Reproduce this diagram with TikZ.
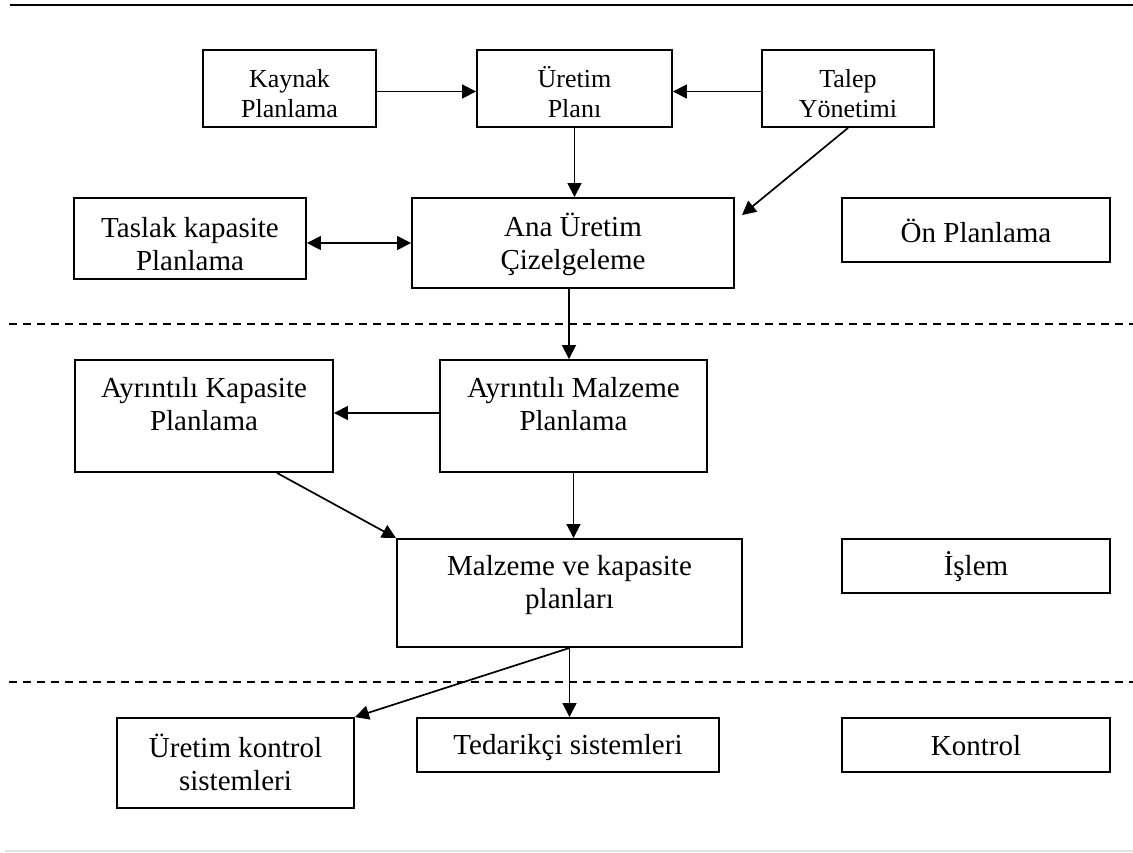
\documentclass[tikz,border=0pt]{standalone}
\usepackage{fontspec}
\setmainfont{Liberation Serif}
\usetikzlibrary{arrows.meta,calc}
\newcommand{\twol}[2]{\begin{tabular}[t]{@{}c@{}}#1\\#2\end{tabular}}
\tikzset{
  boxst/.style={draw, line width=1.9pt, inner sep=0pt, font=\fontsize{29}{33}\selectfont},
  smallbox/.style={boxst, font=\fontsize{26}{30}\selectfont},
  arr/.style={line width=1.7pt, -{Triangle[length=14pt,width=14pt]}},
  dbl/.style={line width=1.7pt, {Triangle[length=14pt,width=14pt]}-{Triangle[length=14pt,width=14pt]}},
  sepline/.style={line width=1.8pt, dash pattern=on 7.5pt off 6.5pt},
}
\begin{document}
\begin{tikzpicture}[x=1pt,y=-1pt]
\useasboundingbox (0,0) rectangle (1133,852);
% frame lines
\draw[line width=2pt] (10,5) -- (1133,5);
\draw[sepline] (9,324) -- (1133,324);
\draw[sepline] (9,682) -- (1133,682);
\draw[line width=1.5pt, gray!22] (5,851) -- (1133,851);
% boxes
\node[smallbox, minimum width=173pt, minimum height=77pt, text height=0pt, text depth=2pt] (kay) at (289.5,88.5) {\twol{Kaynak}{Planlama}};
\node[smallbox, minimum width=195pt, minimum height=77pt, text height=0pt, text depth=2pt] (ure) at (574.5,88.5) {\twol{Üretim}{Planı}};
\node[smallbox, minimum width=172pt, minimum height=77pt, text height=0pt, text depth=2pt] (tal) at (848,88.5) {\twol{Talep}{Yönetimi}};
\node[boxst, minimum width=232pt, minimum height=81pt, text height=0pt, text depth=3pt] (tas) at (190,238.5) {\twol{Taslak kapasite}{Planlama}};
\node[boxst, minimum width=322pt, minimum height=90pt, text height=0pt, text depth=14pt] (ana) at (573,243) {\twol{Ana Üretim}{Çizelgeleme}};
\node[boxst, minimum width=268pt, minimum height=64pt, text height=24pt, text depth=0pt] (onp) at (976,230) {Ön Planlama};
\node[boxst, minimum width=258pt, minimum height=112pt, text height=0pt, text depth=38pt] (akp) at (204,416) {\twol{Ayrıntılı Kapasite}{Planlama}};
\node[boxst, minimum width=267pt, minimum height=112pt, text height=0pt, text depth=38pt] (amp) at (573.5,416) {\twol{Ayrıntılı Malzeme}{Planlama}};
\node[boxst, minimum width=345pt, minimum height=108pt, text height=0pt, text depth=36pt] (mvk) at (569.5,593) {\twol{Malzeme ve kapasite}{planları}};
\node[boxst, minimum width=268pt, minimum height=54pt, text height=18pt, text depth=0pt] (isl) at (976,566) {İşlem};
\node[boxst, minimum width=237pt, minimum height=90pt, text height=0pt, text depth=12pt] (uks) at (235.5,763) {\twol{Üretim kontrol}{sistemleri}};
\node[boxst, minimum width=302pt, minimum height=54pt, text height=18pt, text depth=0pt] (ted) at (568,745) {Tedarikçi sistemleri};
\node[boxst, minimum width=268pt, minimum height=54pt, text height=20pt, text depth=0pt] (kon) at (976,745) {Kontrol};
% connectors
\draw[arr] ([yshift=-3pt]kay.east) -- ([yshift=-3pt]ure.west);
\draw[arr] ([yshift=-3pt]tal.west) -- ([yshift=-3pt]ure.east);
\draw[arr] (ure.south) -- (ure.south |- ana.north);
\draw[arr] (tal.south) -- ([xshift=7pt,yshift=-18pt]ana.north east);
\draw[dbl] (tas.east |- ana.west) -- (ana.west);
\draw[arr] ([xshift=-4pt]ana.south) -- ([xshift=-4pt]ana.south |- amp.north);
\draw[arr] ([yshift=3pt]amp.west) -- ([yshift=3pt]amp.west -| akp.east);
\draw[arr] ([xshift=73pt]akp.south) -- (mvk.north west);
\draw[arr] (amp.south) -- (amp.south |- mvk.north);
\draw[arr] (mvk.south) -- (mvk.south |- ted.north);
\draw[arr] (mvk.south) -- (uks.north east);
\end{tikzpicture}
\end{document}
